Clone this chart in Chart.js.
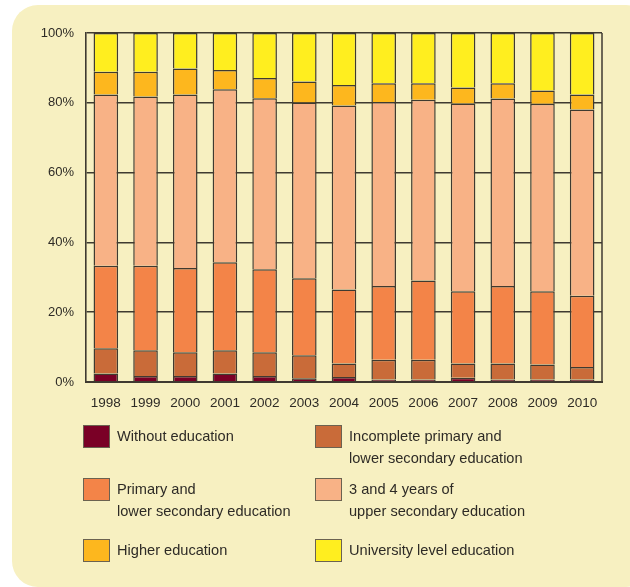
<!DOCTYPE html>
<html>
<head>
<meta charset="utf-8">
<script src="https://cdn.jsdelivr.net/npm/chart.js@4/dist/chart.umd.min.js"></script>
<style>
  html, body { margin: 0; padding: 0; background: #fff; }
  #panel {
    position: absolute; left: 12px; top: 5px; width: 640px; height: 582px;
    background: #f7f0c1; border-radius: 26px;
  }
  #wrap { position: absolute; left: 0; top: 0; width: 630px; height: 410px; }
  #legend {
    position: absolute; left: 0; top: 0; width: 630px; height: 587px;
    font-family: "Liberation Sans", Arial, sans-serif; font-size: 14.6px; color: #2e2b26;
  }
  .item { position: absolute; }
  .sw {
    position: absolute; left: 0; top: 0; width: 25px; height: 21px;
    border: 1px solid #6b6250;
  }
  .txt { position: absolute; left: 34px; top: 1px; line-height: 21.7px; white-space: nowrap; }
</style>
</head>
<body>
<div id="panel"></div>
<div id="wrap"><canvas id="chart"></canvas></div>
<div id="legend"></div>
<script>
const years = ['1998', '1999', '2000', '2001', '2002', '2003', '2004', '2005', '2006', '2007', '2008', '2009', '2010'];

// shares in %, bottom to top of each bar
const withoutEducation = [2.4, 1.7, 1.7, 2.4, 1.7, 1.1, 1.4, 0.7, 0.7, 1.2, 0.7, 0.7, 0.7];
const incompletePrimary = [7.3, 7.4, 6.8, 6.7, 6.8, 6.6, 3.9, 5.7, 5.7, 4.1, 4.6, 4.3, 3.6];
const primaryLowerSecondary = [23.6, 24.2, 24.2, 25.2, 23.8, 22.0, 21.2, 21.1, 22.7, 20.7, 22.2, 21.0, 20.4];
const upperSecondary = [49.1, 48.5, 49.7, 49.6, 49.0, 50.4, 52.7, 52.7, 51.8, 53.8, 53.7, 53.7, 53.4];
const higherEducation = [6.5, 7.1, 7.4, 5.5, 5.8, 6.0, 5.9, 5.4, 4.7, 4.6, 4.4, 3.8, 4.3];
const universityLevel = [11.1, 11.1, 10.2, 10.6, 12.9, 13.9, 14.9, 14.4, 14.4, 15.6, 14.4, 16.5, 17.6];

const seriesLabels = [
  ['Without education'],
  ['Incomplete primary and', 'lower secondary education'],
  ['Primary and', 'lower secondary education'],
  ['3 and 4 years of', 'upper secondary education'],
  ['Higher education'],
  ['University level education'],
];
const seriesData = [withoutEducation, incompletePrimary, primaryLowerSecondary, upperSecondary, higherEducation, universityLevel];
const colors = ['#7a0026', '#c96b39', '#f38448', '#f8b286', '#fdb71e', '#ffee1f'];
const yTicks = [0, 20, 40, 60, 80, 100];

const lineColor = '#3f3a30';

// draw the right hand frame line of the plot
const frame = {
  id: 'frame',
  beforeDatasetsDraw(chart) {
    const { ctx, chartArea } = chart;
    ctx.save();
    ctx.strokeStyle = lineColor;
    ctx.lineWidth = 1.5;
    ctx.beginPath();
    ctx.moveTo(chartArea.right, chartArea.top);
    ctx.lineTo(chartArea.right, chartArea.bottom);
    ctx.stroke();
    ctx.restore();
  },
};

const chart = new Chart(document.getElementById('chart'), {
  type: 'bar',
  data: {
    labels: years,
    datasets: seriesData.map((d, i) => ({
      label: seriesLabels[i].join(' '),
      data: d,
      backgroundColor: colors[i],
      borderColor: lineColor,
      borderWidth: 1.5,
      barPercentage: 0.62,
      categoryPercentage: 1,
    })),
  },
  options: {
    responsive: true,
    maintainAspectRatio: false,
    animation: false,
    layout: { padding: { top: 33, right: 28, left: 0, bottom: 0 } },
    plugins: {
      legend: { display: false },
      tooltip: { enabled: false },
    },
    scales: {
      x: {
        stacked: true,
        grid: { display: false },
        border: { display: true, color: lineColor, width: 2 },
        ticks: {
          color: '#2e2b26',
          padding: 5,
          font: { family: '"Liberation Sans", Arial, sans-serif', size: 13.5 },
        },
        afterFit(scale) { scale.height = 28; },
      },
      y: {
        stacked: true,
        min: 0,
        max: 100,
        afterBuildTicks(scale) { scale.ticks = yTicks.map((v) => ({ value: v })); },
        grid: { color: lineColor, lineWidth: 1.6, drawTicks: false },
        border: { display: true, color: lineColor, width: 1.6 },
        ticks: {
          color: '#2e2b26',
          padding: 12,
          font: { family: '"Liberation Sans", Arial, sans-serif', size: 13 },
          callback: (v) => v + '%',
        },
        afterFit(scale) { scale.width = 86; },
      },
    },
  },
  plugins: [frame],
});

// two column legend built from the datasets
const legendPos = [[83, 425], [315, 425], [83, 478], [315, 478], [83, 539], [315, 539]];
const legend = document.getElementById('legend');
chart.data.datasets.forEach((ds, i) => {
  const item = document.createElement('div');
  item.className = 'item';
  item.style.left = legendPos[i][0] + 'px';
  item.style.top = legendPos[i][1] + 'px';
  const sw = document.createElement('div');
  sw.className = 'sw';
  sw.style.background = ds.backgroundColor;
  const txt = document.createElement('div');
  txt.className = 'txt';
  txt.innerHTML = seriesLabels[i].join('<br>');
  item.appendChild(sw);
  item.appendChild(txt);
  legend.appendChild(item);
});
</script>
</body>
</html>
